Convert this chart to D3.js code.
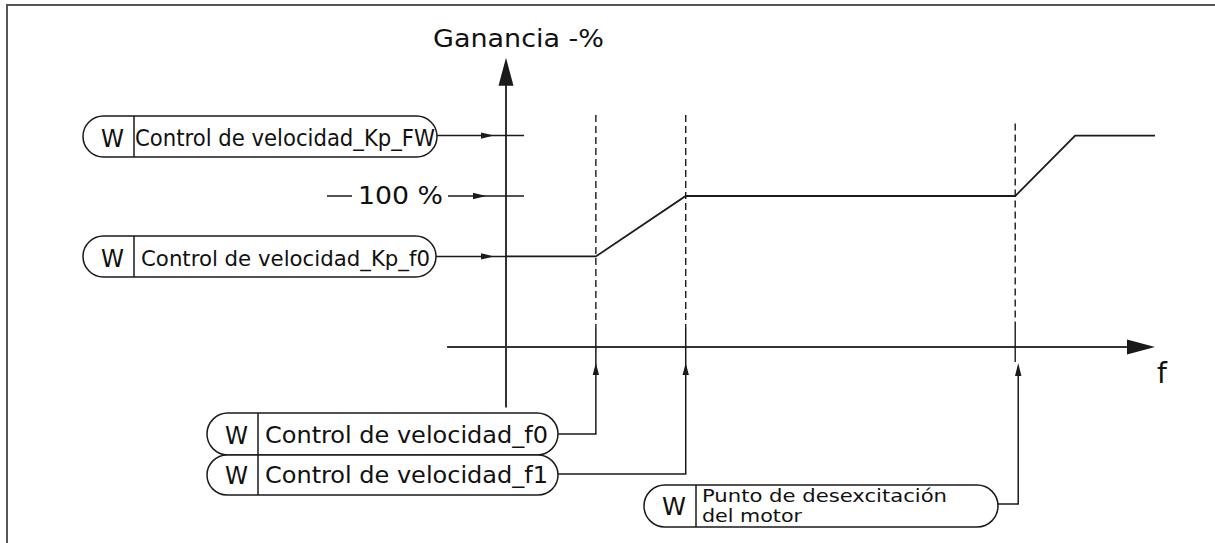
<!DOCTYPE html>
<html>
<head>
<meta charset="utf-8">
<script src="https://cdn.jsdelivr.net/npm/d3@7"></script>
<style>
  html, body { margin: 0; padding: 0; background: #fff; }
  svg { display: block; }
  text { font-family: "DejaVu Sans Condensed", "DejaVu Sans", sans-serif; fill: #111; }
</style>
</head>
<body>
<svg id="chart" width="1215" height="543"></svg>
<script>
// ---------------- data ----------------
// gain levels (% of nominal)
const gainKpF0 = 60;
const gainNominal = 100;
const gainKpFW = 140;
// frequency breakpoints (arbitrary units along f axis)
const freqBreaks = [0, 9, 18, 51, 57, 65];
// gain curve values at those breakpoints
const gainCurve = [60, 60, 100, 100, 140, 140];
// marker frequencies (dashed lines): f0, f1, field weakening point
const markerNames = ["f0", "f1", "fw"];
const markerFreqs = [9, 18, 51];
// texts
const yTitle = "Ganancia -%";
const xTitle = "f";
const nominalLabel = "100 %";
const paramW = "W";
const paramKpFW = "Control de velocidad_Kp_FW";
const paramKpF0 = "Control de velocidad_Kp_f0";
const paramF0 = "Control de velocidad_f0";
const paramF1 = "Control de velocidad_f1";
const paramFwLines = ["Punto de desexcitación", "del motor"];

// ---------------- scales ----------------
const svg = d3.select("#chart");
const x = d3.scaleLinear().domain([0, 65]).range([506, 1155]);
const y = d3.scaleLinear().domain([0, 100]).range([347, 196]);

const ink = "#1a1a1a";

// frame
svg.append("line").attr("x1", 7).attr("y1", 5).attr("x2", 1215).attr("y2", 5)
  .attr("stroke", "#555").attr("stroke-width", 2);
svg.append("line").attr("x1", 7).attr("y1", 4).attr("x2", 7).attr("y2", 543)
  .attr("stroke", "#555").attr("stroke-width", 2);

// helper arrowheads
function arrowUp(cx, tipY, len, half) {
  svg.append("path")
    .attr("d", `M${cx},${tipY} L${cx - half},${tipY + len} L${cx + half},${tipY + len} Z`)
    .attr("fill", ink);
}
function arrowRight(tipX, cy, len, half) {
  svg.append("path")
    .attr("d", `M${tipX},${cy} L${tipX - len},${cy - half} L${tipX - len},${cy + half} Z`)
    .attr("fill", ink);
}

// ---------------- axes ----------------
// y axis
svg.append("line")
  .attr("x1", x(0)).attr("x2", x(0))
  .attr("y1", y(-40)).attr("y2", y(188))
  .attr("stroke", "#333").attr("stroke-width", 2);
arrowUp(x(0), y(191.5), 28, 7.5);
svg.append("text").text(yTitle)
  .attr("x", 433).attr("y", 47)
  .attr("font-size", 24).attr("textLength", 171).attr("lengthAdjust", "spacingAndGlyphs")
  .style("font-family", "'DejaVu Sans', sans-serif");

// x axis
svg.append("line")
  .attr("x1", x(-5.9)).attr("x2", x(63))
  .attr("y1", y(0)).attr("y2", y(0))
  .attr("stroke", "#333").attr("stroke-width", 2);
arrowRight(x(65), y(0), 28, 7.5);
svg.append("text").text(xTitle)
  .attr("x", 1157).attr("y", 383)
  .attr("font-size", 28)
  .style("font-family", "'DejaVu Sans', sans-serif");

// ---------------- dashed marker lines ----------------
const markerTop = [153.6, 153.6, 148];
markerFreqs.forEach((f, i) => {
  svg.append("line")
    .attr("x1", x(f)).attr("x2", x(f))
    .attr("y1", y(markerTop[i])).attr("y2", y(12.6))
    .attr("stroke", ink).attr("stroke-width", 1.4)
    .attr("stroke-dasharray", "7,4");
});
// solid part of fw marker through the axis
svg.append("line")
  .attr("x1", x(markerFreqs[2])).attr("x2", x(markerFreqs[2]))
  .attr("y1", y(12.6)).attr("y2", y(-10))
  .attr("stroke", ink).attr("stroke-width", 1.4);

// ---------------- gain curve ----------------
const curvePts = freqBreaks.map((f, i) => [x(f), y(gainCurve[i])]);
svg.append("path")
  .attr("d", d3.line()(curvePts))
  .attr("fill", "none").attr("stroke", ink).attr("stroke-width", 1.8);

// ---------------- pills ----------------
function pill(x0, x1, y0, y1, divX) {
  const h = y1 - y0;
  svg.append("rect")
    .attr("x", x0).attr("y", y0).attr("width", x1 - x0).attr("height", h)
    .attr("rx", h / 2).attr("ry", h / 2)
    .attr("fill", "#fff").attr("stroke", ink).attr("stroke-width", 1.5);
  svg.append("line")
    .attr("x1", divX).attr("x2", divX).attr("y1", y0).attr("y2", y1)
    .attr("stroke", ink).attr("stroke-width", 1.5);
}
function label(t, tx, ty, size, len) {
  const el = svg.append("text").text(t).attr("x", tx).attr("y", ty).attr("font-size", size);
  if (len) el.attr("textLength", len).attr("lengthAdjust", "spacingAndGlyphs");
  return el;
}

// Kp_FW level
const yFW = y(gainKpFW);
svg.append("line").attr("x1", 437).attr("x2", x(1.8)).attr("y1", yFW).attr("y2", yFW)
  .attr("stroke", ink).attr("stroke-width", 1.5);
arrowRight(494, yFW, 13, 3.2);
pill(83, 437, 116, 157, 134);
label(paramW, 101, 147, 25, 23);
label(paramKpFW, 135, 146, 23, 300);

// 100 % level
const yN = y(gainNominal);
svg.append("line").attr("x1", 327).attr("x2", 352).attr("y1", yN).attr("y2", yN)
  .attr("stroke", ink).attr("stroke-width", 1.5);
svg.append("line").attr("x1", 448).attr("x2", x(1.8)).attr("y1", yN).attr("y2", yN)
  .attr("stroke", ink).attr("stroke-width", 1.5);
arrowRight(486, yN, 13, 3.2);
label(nominalLabel, 358, 204, 25, 85).style("font-family", "'DejaVu Sans', sans-serif");

// Kp_f0 level
const yF0 = y(gainKpF0);
svg.append("line").attr("x1", 436).attr("x2", x(0)).attr("y1", yF0).attr("y2", yF0)
  .attr("stroke", ink).attr("stroke-width", 1.5);
arrowRight(494, yF0, 13, 3.2);
pill(83, 436, 236, 277, 134);
label(paramW, 101, 267, 25, 23);
label(paramKpF0, 141, 266, 22, 289);

// f0 parameter
const tipY = y(-10.6);
svg.append("path")
  .attr("d", `M558,434 L${x(markerFreqs[0])},434 L${x(markerFreqs[0])},${y(12.6)}`)
  .attr("fill", "none").attr("stroke", ink).attr("stroke-width", 1.5);
arrowUp(x(markerFreqs[0]), tipY, 12, 3.2);
pill(207, 558, 413, 455, 258);
label(paramW, 225, 444, 25, 23);
label(paramF0, 265, 443, 23, 283);

// f1 parameter
svg.append("path")
  .attr("d", `M558,474 L${x(markerFreqs[1])},474 L${x(markerFreqs[1])},${y(12.6)}`)
  .attr("fill", "none").attr("stroke", ink).attr("stroke-width", 1.5);
arrowUp(x(markerFreqs[1]), tipY, 12, 3.2);
pill(207, 558, 455, 495, 258);
label(paramW, 225, 484, 25, 23);
label(paramF1, 265, 483, 23, 283);

// field weakening point parameter
const xFwArrow = x(markerFreqs[2]) + 3;
svg.append("path")
  .attr("d", `M998,504 L${xFwArrow},504 L${xFwArrow},${tipY + 4}`)
  .attr("fill", "none").attr("stroke", ink).attr("stroke-width", 1.5);
arrowUp(xFwArrow, tipY, 13, 3.2);
pill(644, 998, 485, 527, 696);
label(paramW, 662, 515, 25, 24);
label(paramFwLines[0], 702, 502, 17, 245);
label(paramFwLines[1], 702, 522, 17, 100);
</script>
</body>
</html>
